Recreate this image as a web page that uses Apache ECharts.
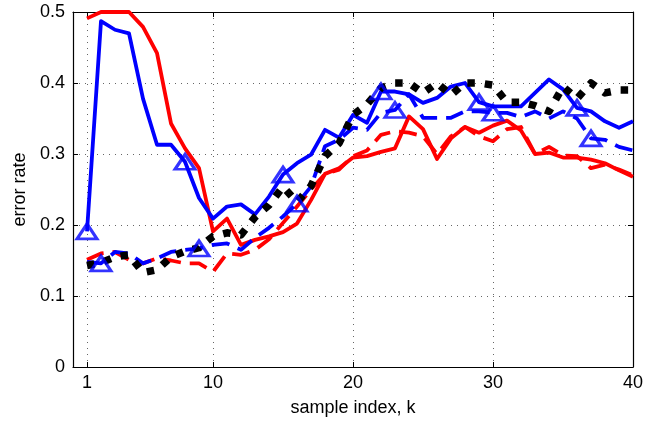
<!DOCTYPE html>
<html>
<head>
<meta charset="utf-8">
<title>error rate vs sample index</title>
<script src="https://cdn.jsdelivr.net/npm/echarts@6/dist/echarts.min.js"></script>
<style>
    html, body { margin: 0; padding: 0; background: #fff; }
    #chart { width: 659px; height: 422px; }
</style>
</head>
<body>
<div id="chart"></div>
<script>
// sample index k
var sampleIdx = [1, 2, 3, 4, 5, 6, 7, 8, 9, 10, 11, 12, 13, 14, 15, 16, 17, 18, 19, 20,
                 21, 22, 23, 24, 25, 26, 27, 28, 29, 30, 31, 32, 33, 34, 35, 36, 37, 38, 39, 40];
var xTicks = [1, 10, 20, 30, 40];

var redSolid = [0.491, 0.500, 0.500, 0.500, 0.479, 0.442, 0.343, 0.308, 0.280, 0.191,
                0.209, 0.172, 0.179, 0.184, 0.190, 0.202, 0.235, 0.272, 0.280, 0.295,
                0.297, 0.303, 0.308, 0.353, 0.335, 0.293, 0.322, 0.338, 0.330, 0.340,
                0.347, 0.333, 0.300, 0.302, 0.295, 0.295, 0.292, 0.287, 0.277, 0.268];
var redDash = [0.151, 0.160, 0.162, 0.151, 0.146, 0.153, 0.150, 0.146, 0.146, 0.134,
               0.160, 0.158, 0.165, 0.180, 0.203, 0.226, 0.250, 0.272, 0.278, 0.297,
               0.305, 0.327, 0.332, 0.330, 0.325, 0.300, 0.325, 0.338, 0.325, 0.318,
               0.335, 0.338, 0.300, 0.310, 0.298, 0.297, 0.280, 0.285, 0.278, 0.270];
var blueSolid = [0.191, 0.487, 0.475, 0.470, 0.378, 0.313, 0.313, 0.289, 0.238, 0.209,
                 0.226, 0.229, 0.215, 0.240, 0.271, 0.287, 0.299, 0.334, 0.323, 0.355,
                 0.344, 0.388, 0.388, 0.384, 0.372, 0.379, 0.395, 0.400, 0.373, 0.367,
                 0.367, 0.367, 0.386, 0.405, 0.391, 0.365, 0.360, 0.346, 0.337, 0.346];
var blueDash = [0.148, 0.146, 0.162, 0.160, 0.146, 0.153, 0.162, 0.165, 0.167, 0.172,
                0.174, 0.165, 0.182, 0.196, 0.212, 0.230, 0.254, 0.311, 0.320, 0.337,
                0.334, 0.358, 0.362, 0.384, 0.351, 0.351, 0.351, 0.360, 0.360, 0.358,
                0.358, 0.352, 0.360, 0.350, 0.360, 0.350, 0.322, 0.320, 0.310, 0.305];
var blackDot = [0.143, 0.147, 0.155, 0.158, 0.133, 0.137, 0.155, 0.163, 0.168, 0.184,
                0.189, 0.186, 0.211, 0.228, 0.254, 0.232, 0.255, 0.297, 0.315, 0.355,
                0.370, 0.393, 0.400, 0.400, 0.386, 0.400, 0.383, 0.400, 0.400, 0.397,
                0.373, 0.373, 0.368, 0.360, 0.395, 0.378, 0.400, 0.386, 0.390, 0.390];

// k values where the triangle markers sit
var solidMarkAt = [1, 8, 15, 22, 29, 36];
var dashMarkAt = [2, 9, 16, 23, 30, 37];

function pairs(vals) {
    return sampleIdx.map(function (k, i) { return [k, vals[i]]; });
}
function marks(vals, at) {
    return at.map(function (k) { return [k, vals[sampleIdx.indexOf(k)]]; });
}
function line(data, color, width, type, z) {
    return {
        type: 'line', data: pairs(data), showSymbol: false, symbol: 'none', z: z,
        lineStyle: {color: color, width: width, type: type, cap: 'butt', join: 'round'}
    };
}
function tri(data, at) {
    return {
        type: 'scatter', data: marks(data, at), symbol: 'triangle', symbolSize: [20, 15], z: 10,
        itemStyle: {color: 'rgba(0,0,0,0)', borderColor: '#0000ff', borderWidth: 3}
    };
}

var font = 'Liberation Sans';
var gridLine = {show: true, lineStyle: {color: '#666', width: 1, type: [1, 5]}};

var myChart = echarts.init(document.getElementById('chart'));
var option = {
    animation: false,
    backgroundColor: '#fff',
    grid: {left: 73, right: 26, top: 12, bottom: 55, outerBoundsMode: 'none'},
    xAxis: [{
        type: 'value', min: 0, max: 40, position: 'bottom',
        name: 'sample index, k', nameLocation: 'middle', nameGap: 32,
        nameTextStyle: {fontFamily: font, fontSize: 18, color: '#000'},
        axisLine: {onZero: false, lineStyle: {color: '#000', width: 1.2}},
        axisTick: {inside: true, length: 5, customValues: xTicks, lineStyle: {color: '#000'}},
        axisLabel: {customValues: xTicks, margin: 7, fontFamily: font, fontSize: 18, color: '#000'},
        splitLine: gridLine
    }, {
        type: 'value', min: 0, max: 40, position: 'top',
        axisLine: {onZero: false, lineStyle: {color: '#000', width: 1.2}},
        axisTick: {inside: true, length: 5, customValues: xTicks, lineStyle: {color: '#000'}},
        axisLabel: {show: false}, splitLine: {show: false}
    }],
    yAxis: [{
        type: 'value', min: 0, max: 0.5, interval: 0.1, position: 'left',
        name: 'error rate', nameLocation: 'middle', nameGap: 41,
        nameTextStyle: {fontFamily: font, fontSize: 18, color: '#000'},
        axisLine: {show: true, onZero: false, lineStyle: {color: '#000', width: 1.2}},
        axisTick: {show: true, inside: true, length: 5, lineStyle: {color: '#000'}},
        axisLabel: {margin: 8, fontFamily: font, fontSize: 18, color: '#000'},
        splitLine: gridLine
    }, {
        type: 'value', min: 0, max: 0.5, interval: 0.1, position: 'right',
        axisLine: {show: true, onZero: false, lineStyle: {color: '#000', width: 1.2}},
        axisTick: {show: true, inside: true, length: 5, lineStyle: {color: '#000'}},
        axisLabel: {show: false}, splitLine: {show: false}
    }],
    series: [
        line(redSolid, '#ff0000', 3.8, 'solid', 2),
        line(redDash, '#ff0000', 3.8, [18, 9], 3),
        line(blueSolid, '#0000ff', 3.8, 'solid', 4),
        line(blueDash, '#0000ff', 3.8, [18, 9], 5),
        line(blackDot, '#000000', 7.5, [7.5, 10], 6),
        tri(blueSolid, solidMarkAt),
        tri(blueDash, dashMarkAt)
    ]
};
myChart.setOption(option);
</script>
</body>
</html>
